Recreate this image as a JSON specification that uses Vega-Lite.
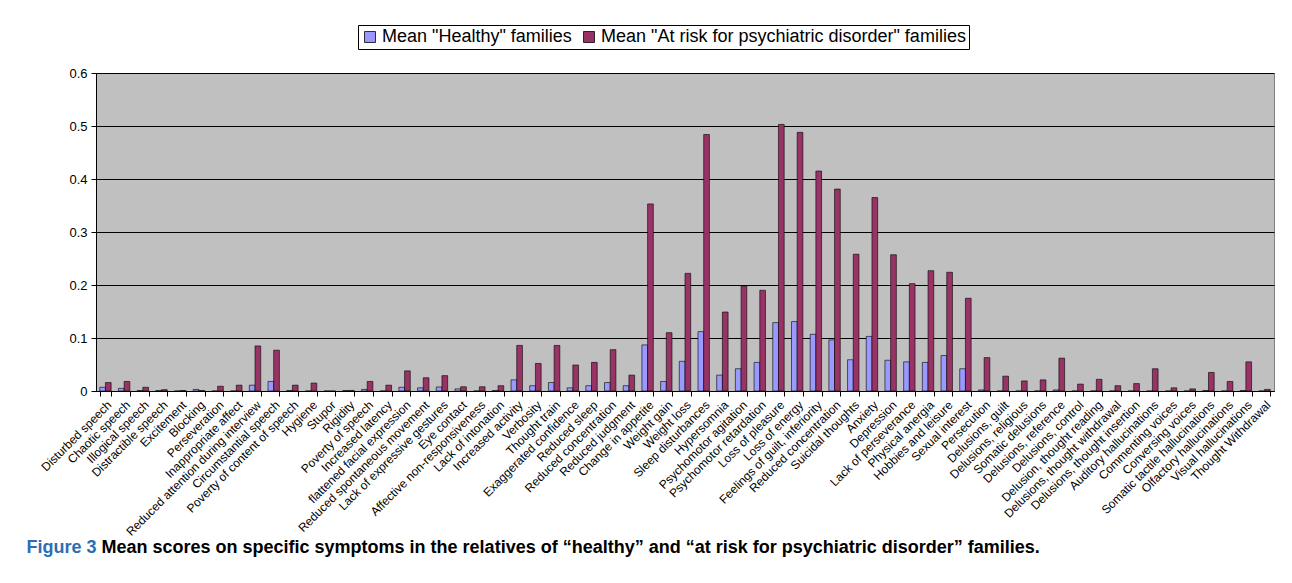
{
  "$schema": "https://vega.github.io/schema/vega-lite/v6.json",
  "width": 1178,
  "height": 318,
  "autosize": {"type": "none"},
  "padding": {"left": 96, "top": 73, "right": 18, "bottom": 192},
  "background": "white",
  "config": {
    "font": "Liberation Sans",
    "view": {"fill": "#C0C0C0", "stroke": "#808080", "strokeWidth": 1},
    "axis": {"labelFont": "Liberation Sans", "labelColor": "black", "domainColor": "black", "tickColor": "black"}
  },
  "data": {
    "values": [
      {"symptom": "Disturbed speech", "healthy": 0.007, "risk": 0.016},
      {"symptom": "Chaotic speech", "healthy": 0.005, "risk": 0.018},
      {"symptom": "Illogical speech", "healthy": 0.001, "risk": 0.007},
      {"symptom": "Distractible speech", "healthy": 0.001, "risk": 0.0025},
      {"symptom": "Excitement", "healthy": 0, "risk": 0.001},
      {"symptom": "Blocking", "healthy": 0.003, "risk": 0.001},
      {"symptom": "Perseveration", "healthy": 0, "risk": 0.009},
      {"symptom": "Inappropriate affect", "healthy": 0, "risk": 0.011},
      {"symptom": "Reduced attention during interview", "healthy": 0.011, "risk": 0.085},
      {"symptom": "Circumstantial speech", "healthy": 0.018, "risk": 0.077},
      {"symptom": "Poverty of content of speech", "healthy": 0.001, "risk": 0.011},
      {"symptom": "Hygiene", "healthy": 0, "risk": 0.015},
      {"symptom": "Stupor", "healthy": 0, "risk": 0},
      {"symptom": "Rigidity", "healthy": 0.001, "risk": 0.001},
      {"symptom": "Poverty of speech", "healthy": 0.003, "risk": 0.018},
      {"symptom": "Increased latency", "healthy": 0, "risk": 0.011},
      {"symptom": "flattened facial expression", "healthy": 0.007, "risk": 0.038},
      {"symptom": "Reduced spontaneous movement", "healthy": 0.006, "risk": 0.025},
      {"symptom": "Lack of expressive gestures", "healthy": 0.0076, "risk": 0.029},
      {"symptom": "Eye contact", "healthy": 0.004, "risk": 0.008},
      {"symptom": "Affective non-responsiveness", "healthy": 0, "risk": 0.008},
      {"symptom": "Lack of intonation", "healthy": 0.001, "risk": 0.010},
      {"symptom": "Increased activity", "healthy": 0.021, "risk": 0.086},
      {"symptom": "Verbosity", "healthy": 0.010, "risk": 0.052},
      {"symptom": "Thought train", "healthy": 0.016, "risk": 0.086},
      {"symptom": "Exaggerated confidence", "healthy": 0.006, "risk": 0.049},
      {"symptom": "Reduced sleep", "healthy": 0.010, "risk": 0.054},
      {"symptom": "Reduced concentration", "healthy": 0.016, "risk": 0.078},
      {"symptom": "Reduced judgment", "healthy": 0.010, "risk": 0.030},
      {"symptom": "Change in appetite", "healthy": 0.087, "risk": 0.353},
      {"symptom": "Weight gain", "healthy": 0.018, "risk": 0.110},
      {"symptom": "Weight loss", "healthy": 0.056, "risk": 0.222},
      {"symptom": "Sleep disturbances", "healthy": 0.112, "risk": 0.484},
      {"symptom": "Hypersomnia", "healthy": 0.030, "risk": 0.149},
      {"symptom": "Psychomotor agitation", "healthy": 0.042, "risk": 0.198},
      {"symptom": "Psychomotor retardation", "healthy": 0.054, "risk": 0.190},
      {"symptom": "Loss of pleasure", "healthy": 0.129, "risk": 0.503},
      {"symptom": "Loss of energy", "healthy": 0.131, "risk": 0.488},
      {"symptom": "Feelings of guilt, inferiority", "healthy": 0.107, "risk": 0.415},
      {"symptom": "Reduced concentration ", "healthy": 0.0965, "risk": 0.381},
      {"symptom": "Suicidal thoughts", "healthy": 0.059, "risk": 0.258},
      {"symptom": "Anxiety", "healthy": 0.103, "risk": 0.365},
      {"symptom": "Depression", "healthy": 0.058, "risk": 0.257},
      {"symptom": "Lack of perseverance", "healthy": 0.055, "risk": 0.2025},
      {"symptom": "Physical anergia", "healthy": 0.054, "risk": 0.227},
      {"symptom": "Hobbies and leisure", "healthy": 0.067, "risk": 0.224},
      {"symptom": "Sexual interest", "healthy": 0.042, "risk": 0.175},
      {"symptom": "Persecution", "healthy": 0.002, "risk": 0.063},
      {"symptom": "Delusions, guilt", "healthy": 0, "risk": 0.028},
      {"symptom": "Delusions, religious", "healthy": 0, "risk": 0.019},
      {"symptom": "Somatic delusions", "healthy": 0, "risk": 0.021},
      {"symptom": "Delusions, reference", "healthy": 0.002, "risk": 0.062},
      {"symptom": "Delusions, control", "healthy": 0, "risk": 0.013},
      {"symptom": "Delusion, thought reading", "healthy": 0, "risk": 0.022},
      {"symptom": "Delusions, thought withdrawal", "healthy": 0, "risk": 0.010},
      {"symptom": "Delusions, thought insertion", "healthy": 0, "risk": 0.014},
      {"symptom": "Auditory hallucinations", "healthy": 0, "risk": 0.042},
      {"symptom": "Commenting voices", "healthy": 0, "risk": 0.006},
      {"symptom": "Conversing voices", "healthy": 0, "risk": 0.004},
      {"symptom": "Somatic tactile hallucinations", "healthy": 0.001, "risk": 0.035},
      {"symptom": "Olfactory hallucinations", "healthy": 0, "risk": 0.018},
      {"symptom": "Visual hallucinations", "healthy": 0.001, "risk": 0.055},
      {"symptom": "Thought Withdrawal", "healthy": 0, "risk": 0.003}
    ]
  },
  "transform": [{"fold": ["healthy", "risk"], "as": ["group", "value"]}],
  "mark": {"type": "bar", "stroke": "#000000", "strokeWidth": 0.8, "strokeOpacity": 0.75},
  "encoding": {
    "x": {
      "field": "symptom",
      "type": "nominal",
      "sort": null,
      "scale": {"paddingInner": 0.39, "paddingOuter": 0.2},
      "axis": {
        "title": "Mean scores on specific symptoms in the relatives of “healthy” and “at risk for psychiatric disorder” families.",
        "titleFont": "Liberation Sans",
        "titleFontSize": 18,
        "titleFontWeight": "bold",
        "titleColor": "black",
        "titleAnchor": "start",
        "titleAlign": "left",
        "titleBaseline": "alphabetic",
        "titleX": 5,
        "titleY": 161,
        "labelAngle": -45,
        "labelFontSize": 12,
        "labelPadding": 3,
        "tickBand": "extent",
        "tickSize": 5,
        "labelOverlap": false,
        "labelLimit": 400,
        "domainColor": "black"
      }
    },
    "xOffset": {"field": "group", "type": "nominal"},
    "y": {
      "field": "value",
      "type": "quantitative",
      "scale": {"domain": [0, 0.6], "nice": false},
      "axis": {
        "title": "Figure 3",
        "titleFont": "Liberation Sans",
        "titleFontSize": 18,
        "titleFontWeight": "bold",
        "titleColor": "#2E6DB4",
        "titleAngle": 0,
        "titleAlign": "left",
        "titleBaseline": "alphabetic",
        "titleX": -70,
        "titleY": 479,
        "values": [0, 0.1, 0.2, 0.3, 0.4, 0.5, 0.6],
        "format": "~g",
        "labelFontSize": 13,
        "labelPadding": 4,
        "tickSize": 5,
        "gridColor": "black",
        "gridOpacity": 1,
        "gridWidth": 1
      }
    },
    "color": {
      "field": "group",
      "type": "nominal",
      "scale": {"domain": ["healthy", "risk"], "range": ["#9999FF", "#993366"]},
      "legend": {
        "title": null,
        "orient": "none",
        "legendX": 262,
        "legendY": -48,
        "direction": "horizontal",
        "symbolType": "square",
        "symbolSize": 120,
        "symbolStrokeColor": "black",
        "symbolStrokeWidth": 0.8,
        "labelFontSize": 18,
        "labelFont": "Liberation Sans",
        "labelColor": "black",
        "columnPadding": 8,
        "labelOffset": 3,
        "strokeColor": "black",
        "padding": 3,
        "fillColor": "white",
        "labelLimit": 700,
        "labelExpr": "datum.label == 'healthy' ? 'Mean \"Healthy\" families' : 'Mean \"At risk for psychiatric disorder\" families'"
      }
    }
  }
}
